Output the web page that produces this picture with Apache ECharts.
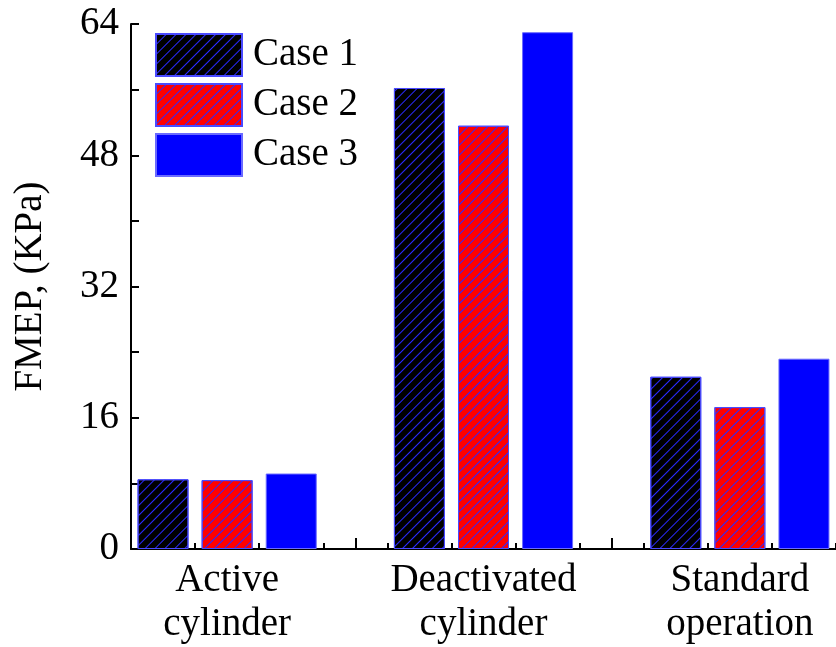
<!DOCTYPE html>
<html>
<head>
<meta charset="utf-8">
<script src="https://cdn.jsdelivr.net/npm/echarts@6/dist/echarts.min.js"></script>
<style>
  html, body { margin: 0; padding: 0; background: #fff; }
  #chart { width: 836px; height: 647px; }
</style>
</head>
<body>
<div id="chart"></div>
<script>
// categories and values (FMEP, KPa)
const groups = ['Active\ncylinder', 'Deactivated\ncylinder', 'Standard\noperation'];
const caseNames = ['Case 1', 'Case 2', 'Case 3'];
const case1 = [8.5, 56.2, 21.0];
const case2 = [8.4, 51.6, 17.3];
const case3 = [9.2, 63.0, 23.2];
const yTicks = [0, 16, 32, 48, 64];

const font = 'Liberation Serif';
const chart = echarts.init(document.getElementById('chart'));

// each group sits at 4*i, the three cases at -1, 0, +1 around it
const toPoints = (vals, k) => vals.map((v, i) => [i * 4 + (k - 1), v]);

const hatch = {
    symbol: 'rect',
    symbolSize: 1,
    color: '#2a2aff',
    dashArrayX: [1, 0],
    dashArrayY: [1, 6],
    rotation: -Math.PI / 4
};

const styles = [
    { color: '#000000', borderColor: '#4a4aff', borderWidth: 1, decal: hatch },
    { color: '#ff0000', borderColor: '#4a4aff', borderWidth: 1, decal: hatch },
    { color: '#0000ff', borderColor: '#6a6aff', borderWidth: 1 }
];

const xCommon = {
    type: 'value',
    min: -1.5,
    max: 9.5,
    position: 'bottom',
    splitLine: { show: false }
};

const option = {
    animation: false,
    backgroundColor: '#fff',
    grid: { left: 131, top: 24, right: 0, bottom: 98 },
    legend: {
        orient: 'vertical',
        left: 155,
        top: 33,
        padding: 0,
        itemWidth: 86,
        itemHeight: 42,
        itemGap: 6,
        icon: 'rect',
        textStyle: { fontFamily: font, fontSize: 39, color: '#000', padding: [0, 0, 0, 6] },
        data: caseNames
    },
    xAxis: [
        Object.assign({}, xCommon, {
            interval: 0.5,
            axisLine: { lineStyle: { color: '#000', width: 2 } },
            axisTick: { inside: true, length: 6, lineStyle: { color: '#000', width: 2 } },
            axisLabel: {
                customValues: [0, 4, 8],
                formatter: v => groups[Math.round(v / 4)],
                fontFamily: font, fontSize: 39, color: '#000',
                lineHeight: 44, margin: 10
            }
        }),
        Object.assign({}, xCommon, {
            axisLine: { show: false },
            axisTick: {
                inside: true, length: 11,
                customValues: [-1, 0, 1, 2, 3, 4, 5, 6, 7, 8, 9],
                lineStyle: { color: '#000', width: 2 }
            },
            axisLabel: { show: false }
        })
    ],
    yAxis: {
        type: 'value',
        min: 0,
        max: 64,
        interval: 16,
        name: 'FMEP, (KPa)',
        nameLocation: 'middle',
        nameGap: 81,
        nameTextStyle: { fontFamily: font, fontSize: 39, color: '#000' },
        axisLine: { show: true, onZero: false, lineStyle: { color: '#000', width: 2 } },
        axisTick: { inside: true, length: 8, lineStyle: { color: '#000', width: 2 } },
        minorTick: { show: true, splitNumber: 2, length: 8, lineStyle: { color: '#000', width: 2 } },
        splitLine: { show: false },
        axisLabel: {
            customValues: yTicks,
            fontFamily: font, fontSize: 39, color: '#000', margin: 12
        }
    },
    series: [case1, case2, case3].map((vals, k) => ({
        name: caseNames[k],
        type: 'bar',
        xAxisIndex: 0,
        barWidth: 51,
        barGap: '-100%',
        itemStyle: styles[k],
        data: toPoints(vals, k)
    }))
};

chart.setOption(option);
</script>
</body>
</html>
